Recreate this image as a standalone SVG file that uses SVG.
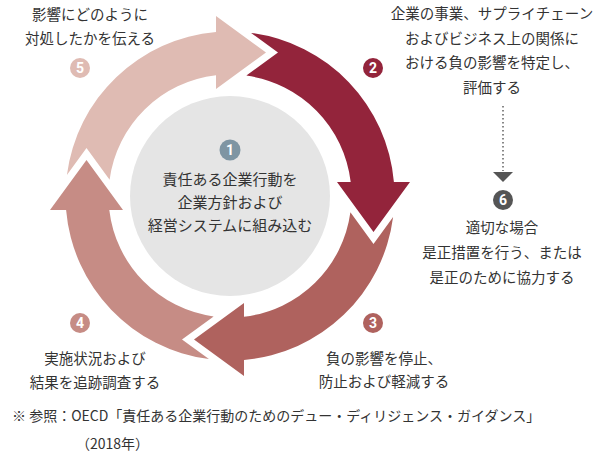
<svg xmlns="http://www.w3.org/2000/svg" xmlns:xlink="http://www.w3.org/1999/xlink" width="598" height="456" viewBox="0 0 598 456">
<style>
.t{font-family:"Noto Sans CJK JP","Noto Sans",sans-serif;font-size:14.5px;fill:#333;text-anchor:middle}
.c{font-size:15px}
.n{font-family:Roboto,"Liberation Sans",sans-serif;font-weight:bold;font-size:14px;fill:#fff;text-anchor:middle}
.f{font-family:"Noto Sans CJK JP","Noto Sans",sans-serif;font-size:14px;fill:#333}
</style>
<defs>
<path id="arr" d="M 48,-143.5 L 21.1,-163.1 A 164.5 164.5 0 0 1 163.9,-14 L 180,-14 L 143.5,36 L 107,-14 L 120.7,-14 A 121.5 121.5 0 0 0 16.35,-120.4 Z"/>
</defs>
<g id="connectors">
<line x1="503" y1="106" x2="503" y2="171" stroke="#555" stroke-width="1.4" stroke-dasharray="1.4 2.6"/>
<polygon points="493,172 513,172 503,182" fill="#555"/>
</g>
<g id="step1">
<circle cx="230" cy="196" r="100" fill="#e5e5e5"/>
<circle cx="230" cy="150" r="10.5" fill="#7e95a3"/>
<text class="n" x="230" y="155">1</text>
<text class="t c" x="230" y="185">責任ある企業行動を</text>
<text class="t c" x="230" y="208">企業方針および</text>
<text class="t c" x="230" y="231">経営システムに組み込む</text>
</g>
<g id="step2">
<use xlink:href="#arr" transform="translate(230,196)" fill="#93243b"/>
<circle cx="373" cy="68" r="10" fill="#93243b"/>
<text class="n" x="373" y="73">2</text>
<text class="t" x="492" y="19">企業の事業、サプライチェーン</text>
<text class="t" x="492" y="43.5">およびビジネス上の関係に</text>
<text class="t" x="492" y="68">おける負の影響を特定し、</text>
<text class="t" x="492" y="92.5">評価する</text>
</g>
<g id="step3">
<use xlink:href="#arr" transform="translate(230,196) rotate(90)" fill="#af625e"/>
<circle cx="373" cy="323" r="10" fill="#af625e"/>
<text class="n" x="373" y="328">3</text>
<text class="t" x="384" y="364">負の影響を停止、</text>
<text class="t" x="384" y="387">防止および軽減する</text>
</g>
<g id="step4">
<use xlink:href="#arr" transform="translate(230,196) rotate(180)" fill="#c68c85"/>
<circle cx="80" cy="323" r="10" fill="#c68c85"/>
<text class="n" x="80" y="328">4</text>
<text class="t" x="95" y="364">実施状況および</text>
<text class="t" x="95" y="388">結果を追跡調査する</text>
</g>
<g id="step5">
<use xlink:href="#arr" transform="translate(230,196) rotate(270)" fill="#dfbbb3"/>
<circle cx="80" cy="68" r="10" fill="#dfbbb3"/>
<text class="n" x="80" y="73">5</text>
<text class="t" x="90" y="19.5">影響にどのように</text>
<text class="t" x="90" y="43.5">対処したかを伝える</text>
</g>
<g id="step6">
<circle cx="503" cy="200" r="10" fill="#555"/>
<text class="n" x="503" y="205">6</text>
<text class="t" x="502" y="233">適切な場合</text>
<text class="t" x="502" y="258">是正措置を行う、または</text>
<text class="t" x="502" y="283">是正のために協力する</text>
</g>
<g id="note">
<text class="f" x="12" y="421">※ 参照：OECD「責任ある企業行動のためのデュー・ディリジェンス・ガイダンス」</text>
<text class="f" x="76" y="449" font-size="14.5">（2018年）</text>
</g>
</svg>
